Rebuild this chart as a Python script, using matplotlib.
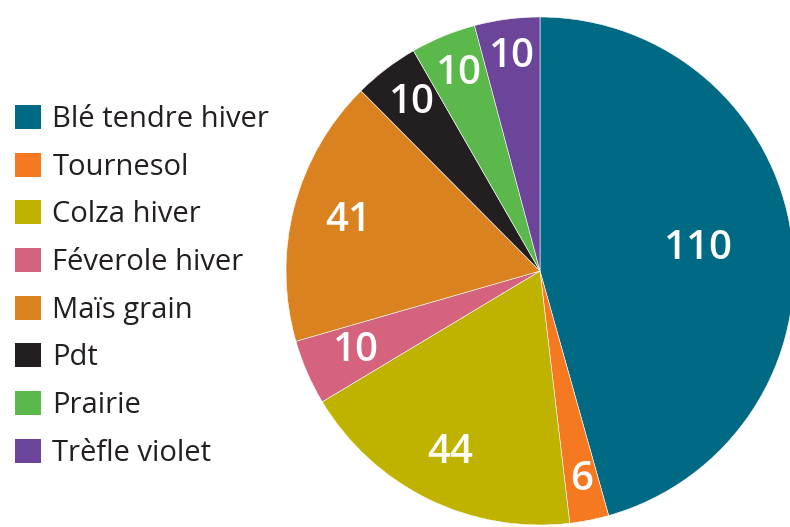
import matplotlib.pyplot as plt
import numpy as np
from matplotlib.patches import Patch

plt.rcParams['font.family'] = ['Open Sans', 'DejaVu Sans']

# Données
cultures = ["Blé tendre hiver", "Tournesol", "Colza hiver", "Féverole hiver",
            "Maïs grain", "Pdt", "Prairie", "Trèfle violet"]
valeurs = [110, 6, 44, 10, 41, 10, 10, 10]
couleurs = ["#006A85", "#F47920", "#C0B300", "#D6637E",
            "#DA8220", "#231F20", "#5BB84B", "#6C449A"]
dist_etiquettes = [0.63, 0.84, 0.80, 0.79, 0.78, 0.83, 0.84, 0.85]

fig = plt.figure(figsize=(7.9, 5.27), dpi=100)
ax = fig.add_axes([286 / 790, 2 / 527, 508 / 790, 508 / 527])

wedges, _ = ax.pie(valeurs, colors=couleurs, startangle=90, counterclock=False,
                   radius=1.0, wedgeprops=dict(edgecolor="white", linewidth=0.4))

for w, v, d in zip(wedges, valeurs, dist_etiquettes):
    ang = np.deg2rad((w.theta1 + w.theta2) / 2)
    ax.text(d * np.cos(ang), d * np.sin(ang), str(v), ha="center", va="center",
            color="white", fontsize=29, fontweight="semibold")

ax.set_xlim(-1, 1)
ax.set_ylim(-1, 1)
ax.set_aspect("equal")
ax.axis("off")

handles = [Patch(facecolor=c, edgecolor="none") for c in couleurs]
leg = fig.legend(handles, cultures, loc="upper left", bbox_to_anchor=(15 / 790, 1 - 105 / 527),
                 frameon=False, fontsize=21, handlelength=0.88, handleheight=0.88,
                 handletextpad=0.4, labelspacing=0.64, borderpad=0, borderaxespad=0)
for t in leg.get_texts():
    t.set_color("#231F20")

fig.savefig("out.png", dpi=100)
